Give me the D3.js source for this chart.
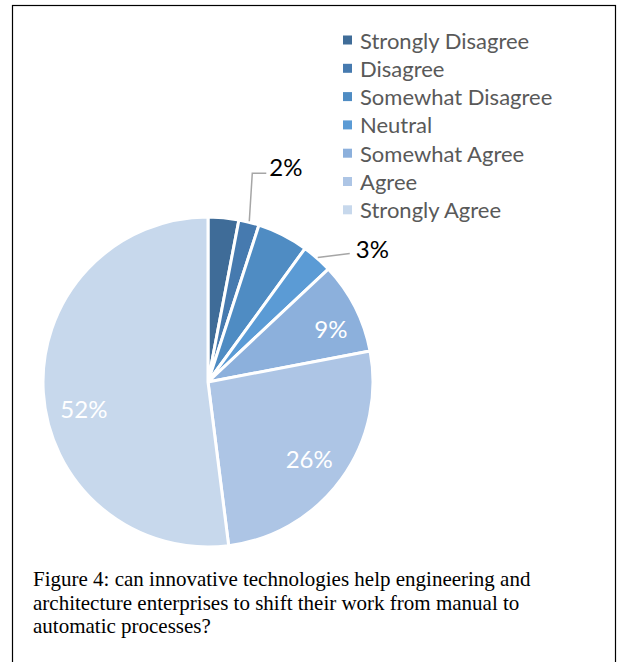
<!DOCTYPE html>
<html>
<head>
<meta charset="utf-8">
<script src="https://cdn.jsdelivr.net/npm/d3@7"></script>
<style>
  html, body { margin: 0; padding: 0; background: #fff; }
  svg { display: block; }
</style>
</head>
<body>
<svg id="chart" width="618" height="662"></svg>
<script>
// Survey responses (percent of respondents)
const categories = ["Strongly Disagree", "Disagree", "Somewhat Disagree", "Neutral",
                    "Somewhat Agree", "Agree", "Strongly Agree"];
const values = [3, 2, 5, 3, 9, 26, 52];
// Which slices carry a data label, and whether it sits outside with a leader
const labelShown = [false, true, false, true, true, true, true];
const labelOutside = [false, true, false, true, false, false, false];
const colors = ["#3f6c98", "#467aaf", "#4f8cc3", "#5b9bd5", "#8cb0dc", "#adc5e5", "#c7d8ec"];
const caption = [
  "Figure 4: can innovative technologies help engineering and",
  "architecture enterprises to shift their work from manual to",
  "automatic processes?"
];

const svg = d3.select("#chart");
const sans = "Lato, 'Open Sans', sans-serif";

// frame
svg.append("rect")
  .attr("x", 12.5).attr("y", 5.5)
  .attr("width", 603).attr("height", 700)
  .attr("fill", "none").attr("stroke", "#000").attr("stroke-width", 1.2);

const cx = 208, cy = 382, R = 165;
const g = svg.append("g").attr("transform", `translate(${cx},${cy})`);

const pie = d3.pie().sort(null).value(d => d)(values);
const arc = d3.arc().innerRadius(0).outerRadius(R);

g.selectAll("path.slice")
  .data(pie)
  .join("path")
  .attr("class", "slice")
  .attr("d", arc)
  .attr("fill", (d, i) => colors[i])
  .attr("stroke", "#fff")
  .attr("stroke-width", 3)
  .attr("stroke-linejoin", "round");

const fmt = d => d3.format(".0%")(d / 100);

// inside labels: placed on a ring, with small angular nudges for the big slices
const inLabelR = 127;
const angleNudge = [0, 0, 0, 0, 0.06, 0.02, -0.15];
pie.forEach((d, i) => {
  if (!labelShown[i] || labelOutside[i]) return;
  const a = (d.startAngle + d.endAngle) / 2 + angleNudge[i];
  const r = i === 4 ? 134 : inLabelR;
  g.append("text")
    .attr("x", r * Math.sin(a))
    .attr("y", -r * Math.cos(a))
    .attr("text-anchor", "middle")
    .attr("dominant-baseline", "central")
    .attr("font-family", sans)
    .attr("font-size", 24)
    .attr("fill", "#fff")
    .text(fmt(values[i]));
});

// outside labels with leader lines
pie.forEach((d, i) => {
  if (!labelShown[i] || !labelOutside[i]) return;
  const a = (d.startAngle + d.endAngle) / 2;
  const x0 = (R + 1) * Math.sin(a), y0 = -(R + 1) * Math.cos(a);
  let pts, tx, ty;
  if (i === 1) {
    pts = [[x0, y0], [x0 + 3, y0 - 48], [x0 + 17, y0 - 48]];
    tx = x0 + 20; ty = y0 - 55;
  } else {
    pts = [[x0, y0], [x0 + 32, y0 - 4]];
    tx = x0 + 38; ty = y0 - 9;
  }
  g.append("path")
    .attr("d", d3.line()(pts))
    .attr("fill", "none")
    .attr("stroke", "#a6a6a6")
    .attr("stroke-width", 1.5);
  g.append("text")
    .attr("x", tx).attr("y", ty)
    .attr("dominant-baseline", "central")
    .attr("font-family", sans)
    .attr("font-size", 24)
    .attr("fill", "#000")
    .text(fmt(values[i]));
});

// legend
const legend = svg.append("g").attr("transform", "translate(343,40)");
const rowH = 28.3;
categories.forEach((c, i) => {
  const row = legend.append("g").attr("transform", `translate(0,${i * rowH})`);
  row.append("rect")
    .attr("x", 0).attr("y", -4.5)
    .attr("width", 9).attr("height", 9)
    .attr("fill", colors[i]);
  row.append("text")
    .attr("x", 17).attr("y", 0)
    .attr("dominant-baseline", "central")
    .attr("font-family", sans)
    .attr("font-size", 22)
    .attr("fill", "#595959")
    .text(c);
});

// caption
svg.append("g").selectAll("text")
  .data(caption)
  .join("text")
  .attr("x", 33)
  .attr("y", (d, i) => 586 + i * 23.5)
  .attr("font-family", "'Liberation Serif', 'Times New Roman', serif")
  .attr("font-size", 21)
  .attr("fill", "#000")
  .text(d => d);
</script>
</body>
</html>
